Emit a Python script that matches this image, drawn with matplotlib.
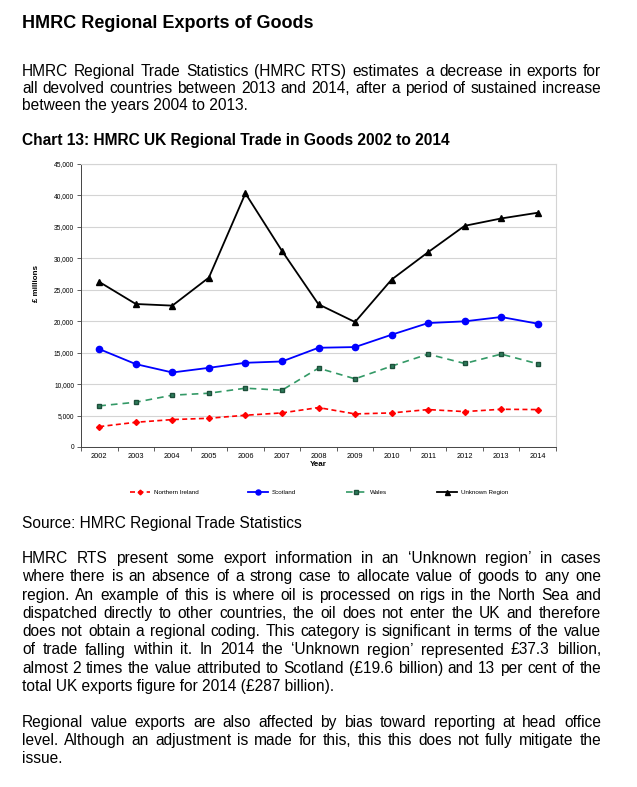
import numpy as np
import matplotlib
matplotlib.use("Agg")
import matplotlib.pyplot as plt

years = [2002, 2003, 2004, 2005, 2006, 2007, 2008, 2009, 2010, 2011, 2012, 2013, 2014]
northern_ireland = [3240, 3930, 4360, 4570, 5050, 5420, 6270, 5260, 5420, 5950, 5630, 6000, 5950]
scotland = [15570, 13180, 11850, 12590, 13390, 13600, 15780, 15890, 17850, 19710, 19980, 20670, 19610]
wales = [6540, 7120, 8240, 8550, 9350, 9030, 12540, 10840, 12860, 14770, 13280, 14770, 13230]
unknown_region = [26250, 22740, 22480, 26940, 40330, 31190, 22690, 19870, 26620, 30980, 35170, 36340, 37250]

heading = "HMRC Regional Exports of Goods"
intro = [
    "HMRC Regional Trade Statistics (HMRC RTS) estimates a decrease in exports for",
    "all devolved countries between 2013 and 2014, after a period of sustained increase",
    "between the years 2004 to 2013.",
]
chart_title = "Chart 13: HMRC UK Regional Trade in Goods 2002 to 2014"
source = "Source: HMRC Regional Trade Statistics"
para2 = [
    "HMRC RTS present some export information in an \u2018Unknown region\u2019 in cases",
    "where there is an absence of a strong case to allocate value of goods to any one",
    "region.  An example of this is where oil is processed on rigs in the North Sea and",
    "dispatched directly to other countries, the oil does not enter the UK and therefore",
    "does not obtain a regional coding. This category is significant in terms of the value",
    "of trade falling within it. In 2014 the \u2018Unknown region\u2019 represented \u00a337.3 billion,",
    "almost 2 times the value attributed to Scotland (\u00a319.6 billion) and 13 per cent of the",
    "total UK exports figure for 2014 (\u00a3287 billion).",
]
para3 = [
    "Regional value exports are also affected by bias toward reporting at head office",
    "level.  Although an adjustment is made for this, this this does not fully mitigate the",
    "issue.",
]

W, H = 637, 787
plt.rcParams['font.family'] = ['Liberation Sans', 'DejaVu Sans']
fig = plt.figure(figsize=(W / 100, H / 100), dpi=100)
renderer = fig.canvas.get_renderer()


def put(x, y, s, **kw):
    return fig.text(x / W, 1 - y / H, s, va='baseline', **kw)


def justified(lines, x0, x1, y0, dy, size):
    for i, line in enumerate(lines):
        y = y0 + i * dy
        if i == len(lines) - 1:
            put(x0, y, line, fontsize=size)
            continue
        words = line.split()
        texts = [put(x0, y, w, fontsize=size) for w in words]
        widths = [t.get_window_extent(renderer).width for t in texts]
        gap = (x1 - x0 - sum(widths)) / (len(words) - 1)
        x = x0
        for t, w in zip(texts, widths):
            t.set_x(x / W)
            x += w + gap


body = 11.2
put(22, 28, heading, fontsize=13, fontweight='bold')
justified(intro, 22, 601, 76, 17, body)
put(22, 145, chart_title, fontsize=11.2, fontweight='bold')
put(22, 528, source, fontsize=body)
justified(para2, 22, 601, 563, 18.3, body)
justified(para3, 22, 601, 727, 18, body)

# chart
ax = fig.add_axes([81 / W, 1 - 447 / H, 475 / W, 283 / H])
x = np.arange(len(years))
ax.plot(x, northern_ireland, color='#ff0000', ls='--', lw=1.2, marker='D', ms=3,
        dashes=(3, 2), label='Northern Ireland')
ax.plot(x, scotland, color='#0000ff', lw=1.3, marker='o', ms=4.5, label='Scotland')
ax.plot(x, wales, color='#339966', ls='--', lw=1.2, dashes=(4, 3), marker='s', ms=3.5,
        mfc='#2e7d5b', mec='#1d4f3a', label='Wales')
ax.plot(x, unknown_region, color='black', lw=1.3, marker='^', ms=4.5, label='Unknown Region')

ax.set_xlim(-0.5, len(years) - 0.5)
ax.set_ylim(0, 45000)
ax.set_yticks(np.arange(0, 45001, 5000))
ax.set_yticklabels([f"{v:,}" for v in range(0, 45001, 5000)], fontsize=4.8)
ax.set_xticks(x)
ax.set_xticklabels([str(y) for y in years], fontsize=5.3)
ax.set_xticks(np.arange(-0.5, len(years), 1), minor=True)
ax.tick_params(axis='x', which='major', length=0, pad=4)
ax.tick_params(axis='x', which='minor', length=3, width=0.6, direction='out', color='#444444')
ax.tick_params(axis='y', length=3, width=0.6, direction='out', color='#444444', pad=2)
ax.grid(axis='y', color='#d4d4d4', lw=0.8)
ax.set_axisbelow(True)
for side in ['top', 'right']:
    ax.spines[side].set_color('#d4d4d4')
    ax.spines[side].set_linewidth(0.8)
for side in ['left', 'bottom']:
    ax.spines[side].set_color('#444444')
    ax.spines[side].set_linewidth(0.7)

ax.set_xlabel('Year', fontsize=5.8, fontweight='bold', labelpad=1)
fig.text(37 / W, 1 - 283 / H, '\u00a3 millions', rotation=90, fontsize=5.8,
         fontweight='bold', ha='center', va='center')

fig.legend(loc='center', bbox_to_anchor=(319 / W, 1 - 492 / H), ncol=4, fontsize=4.5,
           frameon=False, handlelength=3.2, handletextpad=0.6, columnspacing=8,
           markerscale=0.8)

fig.savefig('out.png', dpi=100)
